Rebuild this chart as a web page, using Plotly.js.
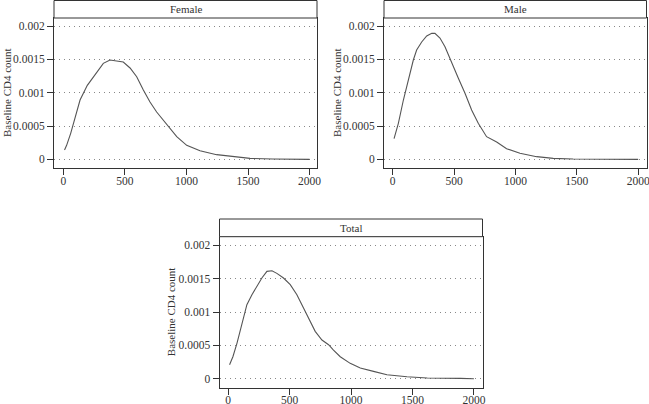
<!DOCTYPE html>
<html>
<head>
<meta charset="utf-8">
<script src="https://cdn.plot.ly/plotly-3.0.1.min.js"></script>
<style>html,body{margin:0;padding:0;background:#fff;}#chart{width:649px;height:404px;}</style>
</head>
<body>
<div id="chart"></div>
<script>
// ---- data ----
const panelNames = ["Female", "Male", "Total"];
const yTitle = "Baseline CD4 count";

const femaleX = [10, 27, 60, 103, 136, 195, 271, 325, 379, 433, 487, 542, 596, 650, 704, 758, 826, 867, 921, 1002, 1110, 1245, 1380, 1516, 1700, 2000];
const femaleY = [0.00014, 0.00021, 0.00039, 0.00069, 0.00089, 0.00111, 0.00131, 0.00144, 0.00149, 0.00148, 0.00146, 0.00137, 0.00124, 0.00104, 0.00086, 0.00071, 0.00056, 0.00047, 0.00034, 0.00021, 0.00013, 0.00007, 0.00004, 0.000015, 0.000005, 0];

const maleX = [11, 46, 87, 127, 168, 195, 236, 277, 318, 344, 385, 426, 480, 534, 589, 643, 697, 738, 765, 847, 928, 1037, 1173, 1308, 1470, 2000];
const maleY = [0.00031, 0.00054, 0.00089, 0.00119, 0.00149, 0.00164, 0.00176, 0.00185, 0.00189, 0.00189, 0.00182, 0.00169, 0.00144, 0.00122, 0.00099, 0.00074, 0.00054, 0.00041, 0.00034, 0.00026, 0.00016, 0.00009, 0.00004, 0.000015, 0.000005, 0];

const totalX = [11, 38, 71, 111, 152, 193, 233, 274, 315, 356, 396, 450, 505, 559, 613, 667, 708, 763, 817, 857, 912, 993, 1075, 1183, 1292, 1455, 1620, 1890, 2000];
const totalY = [0.00021, 0.00033, 0.00053, 0.00083, 0.00111, 0.00126, 0.00138, 0.00151, 0.00161, 0.00162, 0.00158, 0.00151, 0.00141, 0.00126, 0.00106, 0.00086, 0.00071, 0.00058, 0.00051, 0.00043, 0.00033, 0.00023, 0.00016, 0.00011, 0.00006, 0.00003, 0.00001, 0.000005, 0];

const xTickVals = [0, 500, 1000, 1500, 2000];
const xTickText = ["0", "500", "1000", "1500", "2000"];
const yTickVals = [0, 0.0005, 0.001, 0.0015, 0.002];
const yTickText = ["0", "0.0005", "0.001", "0.0015", "0.002"];

// ---- layout geometry ----
const W = 649, H = 404;
const px = v => v / W;
const py = v => (H - v) / H;

const panels = [
  {x: femaleX, y: femaleY, xd: [px(54), px(317)], top: 18, bot: 168, stripTop: 0.5, xr: [-75.5, 2060], yr: [-0.00013, 0.00212], titleX: 7, lblOff: -4},
  {x: maleX, y: maleY, xd: [px(384), px(646.5)], top: 18, bot: 168, stripTop: 0.5, xr: [-71, 2068], yr: [-0.00013, 0.00212], titleX: 337, lblOff: -4},
  {x: totalX, y: totalY, xd: [px(219.5), px(482.5)], top: 236.7, bot: 387.7, stripTop: 219, xr: [-71, 2070], yr: [-0.000135, 0.00213], titleX: 171, lblOff: -5}
];

const font = "Liberation Serif, Times New Roman, serif";
const ink = "#333";

const traces = [];
const layout = {
  width: W, height: H,
  margin: {l: 0, r: 0, t: 0, b: 0},
  paper_bgcolor: "#fff", plot_bgcolor: "#fff",
  showlegend: false,
  font: {family: font, size: 11.5, color: ink},
  shapes: [], annotations: []
};

panels.forEach((p, i) => {
  const sfx = i === 0 ? "" : String(i + 1);
  traces.push({
    type: "scatter", mode: "lines",
    x: p.x, y: p.y,
    xaxis: "x" + sfx, yaxis: "y" + sfx,
    line: {color: "#555", width: 1.1},
    hoverinfo: "skip"
  });
  const common = {
    showline: true, linecolor: ink, linewidth: 1, mirror: true,
    ticks: "outside", tickcolor: ink, tickwidth: 1,
    zeroline: false, fixedrange: true, ticklabeloverflow: "allow",
    tickfont: {family: font, size: 11.5, color: ink}
  };
  layout["xaxis" + sfx] = Object.assign({}, common, {
    domain: p.xd, range: p.xr, anchor: "y" + sfx, ticklen: 6,
    ticklabelstandoff: p.lblOff,
    tickmode: "array", tickvals: xTickVals, ticktext: xTickText,
    showgrid: false
  });
  layout["yaxis" + sfx] = Object.assign({}, common, {
    domain: [py(p.bot), py(p.top)], range: p.yr, anchor: "x" + sfx, ticklen: 6,
    tickmode: "array", tickvals: yTickVals, ticktext: yTickText,
    showgrid: true, gridcolor: "#888", gridwidth: 1, griddash: "1px,4px"
  });
  // strip
  layout.shapes.push({
    type: "rect", xref: "paper", yref: "paper",
    x0: p.xd[0], x1: p.xd[1], y0: py(p.top), y1: py(p.stripTop),
    line: {color: ink, width: 1}, fillcolor: "#fff", layer: "above"
  });
  layout.annotations.push({
    xref: "paper", yref: "paper",
    x: (p.xd[0] + p.xd[1]) / 2, y: (py(p.top) + py(p.stripTop)) / 2,
    xanchor: "center", yanchor: "middle", showarrow: false,
    text: panelNames[i], font: {family: font, size: 11, color: ink}
  });
  // y title
  layout.annotations.push({
    xref: "paper", yref: "paper",
    x: px(p.titleX), y: (py(p.top) + py(p.bot)) / 2,
    xanchor: "center", yanchor: "middle", showarrow: false, textangle: -90,
    text: yTitle, font: {family: font, size: 11, color: ink}
  });
});

Plotly.newPlot("chart", traces, layout, {staticPlot: true, displayModeBar: false});
</script>
</body>
</html>
